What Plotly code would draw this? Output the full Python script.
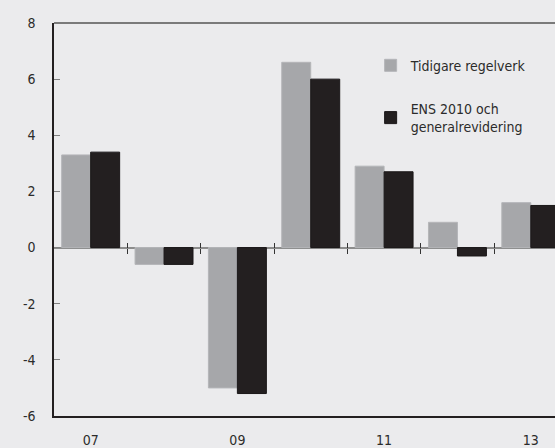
import plotly.graph_objects as go

# ----------------------------
# Data
# ----------------------------
years = ["07", "08", "09", "10", "11", "12", "13"]
tidigare = [3.3, -0.6, -5.0, 6.6, 2.9, 0.9, 1.6]
ens2010 = [3.4, -0.6, -5.2, 6.0, 2.7, -0.3, 1.5]

x_labels = ["07", "09", "11", "13"]
y_ticks = [-6, -4, -2, 0, 2, 4, 6, 8]
y_ticktext = ["-6", "-4", "-2", "0", "2", "4", "6", "8"]
boundaries = [0.5, 1.5, 2.5, 3.5, 4.5, 5.5]

BG = "#ebebed"
GREY = "#a6a7aa"
BLACK = "#231f20"
FONT = "'Liberation Sans Narrow', 'DejaVu Sans Condensed', 'Roboto Condensed', 'Arial Narrow', 'Roboto', sans-serif"
XRANGE = [-0.5, 6.33]

fig = go.Figure()
fig.add_trace(go.Bar(
    x=years, y=tidigare, name="Tidigare regelverk",
    marker=dict(color=GREY, line=dict(color="#b4b5b8", width=1)),
    legendgroup="a",
))
fig.add_trace(go.Bar(
    x=years, y=ens2010, name="ENS 2010 och<br>generalrevidering",
    marker=dict(color=BLACK, line=dict(color="#1a1718", width=1)),
    legendgroup="b",
))

# empty helpers so the overlay axes get drawn
for ax in ["x2", "x3", "x4"]:
    fig.add_trace(go.Scatter(x=[], y=[], xaxis=ax, showlegend=False, hoverinfo="skip"))

zero_pos = (0 - y_ticks[0]) / (y_ticks[-1] - y_ticks[0])

fig.update_layout(
    width=555, height=448,
    margin=dict(l=54, r=0, t=23, b=32),
    paper_bgcolor=BG, plot_bgcolor=BG,
    font=dict(family=FONT, size=14, color="#2b2b2b"),
    barmode="group", bargap=0.21, bargroupgap=0,
    showlegend=True,
    legend=dict(
        x=0.632, y=0.932, xanchor="left", yanchor="top",
        bgcolor="rgba(0,0,0,0)", font=dict(size=14),
        tracegroupgap=22, itemwidth=30,
    ),
    xaxis=dict(
        type="category", categoryorder="array", categoryarray=years,
        range=XRANGE, tickvals=x_labels, ticktext=x_labels,
        ticks="outside", ticklen=10, tickcolor="rgba(0,0,0,0)",
        showline=True, linecolor=BLACK, linewidth=1.5,
        showgrid=False, zeroline=False,
    ),
    xaxis2=dict(
        overlaying="x", anchor="free", position=zero_pos, side="bottom",
        range=XRANGE, tickvals=boundaries, showticklabels=False,
        ticks="outside", ticklen=5, tickcolor="#333", tickwidth=1,
        showline=False, showgrid=False, zeroline=False,
    ),
    xaxis3=dict(
        overlaying="x", anchor="free", position=zero_pos, side="top",
        range=XRANGE, tickvals=boundaries, showticklabels=False,
        ticks="outside", ticklen=5, tickcolor="#333", tickwidth=1,
        showline=False, showgrid=False, zeroline=False,
    ),
    xaxis4=dict(
        overlaying="x", anchor="free", position=1, side="top",
        range=XRANGE, showticklabels=False, ticks="",
        showline=True, linecolor="#7a7a7a", linewidth=1.5,
        showgrid=False, zeroline=False,
    ),
    yaxis=dict(
        range=[y_ticks[0], y_ticks[-1]], tickvals=y_ticks, ticktext=y_ticktext,
        ticks="inside", ticklen=6, tickcolor="#808080",
        showline=True, linecolor=BLACK, linewidth=1.5,
        showgrid=False,
        zeroline=True, zerolinecolor="#8c8c8c", zerolinewidth=1.5,
        ticklabelstandoff=14,
    ),
)

# drop the default page margin so the figure sits flush in the window
fig.write_html(
    "out.html",
    config={"displayModeBar": False},
    post_script="document.body.style.margin='0';",
)
